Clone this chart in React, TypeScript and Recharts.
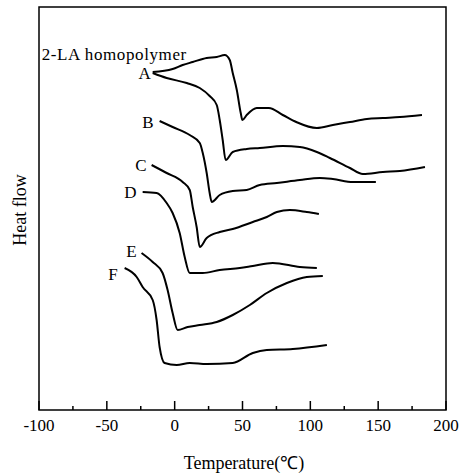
import React from 'react';
import { LineChart, Line, XAxis, YAxis, ReferenceArea } from 'recharts';

// temperatures (°C) and heat flow (arbitrary units) per curve
const homoT = [-16.2, -1.5, 5.9, 13.3, 23.6, 31, 36.9, 40.6, 42.8, 45.8, 48.7, 49.9, 53.1, 60.5, 69.4, 79.7, 89.6, 104.8, 116.6, 129.2, 141.7, 153.5, 166, 182.3];
const homoH = [338, 341, 345, 348, 352, 353, 355, 350, 337, 320, 297, 290, 295, 302, 302, 295, 288, 282, 285, 288, 291, 292, 293, 295];

const aT = [-16.2, -5.9, 8.9, 18.5, 25.8, 31, 33.2, 35.4, 37.6, 42.8, 53.1, 62.7, 79.7, 92.3, 104.8, 114.4, 129.2, 138.7, 153.5, 166, 184.5];
const aH = [337, 332, 327, 322, 314, 305, 290, 270, 250, 258, 261, 262, 264, 263, 258, 252, 242, 236, 238, 239, 243];

const bT = [-11.1, -1.5, 11.1, 18.5, 20.7, 23.6, 25.8, 27.3, 33.2, 42.8, 53.1, 62.7, 75.3, 92.3, 107, 116.6, 131.4, 148.3];
const bH = [289, 283, 275, 267, 257, 237, 217, 208, 215, 219, 220, 225, 227, 230, 232, 231, 228, 228];

const cT = [-17, -5.9, 5.9, 11.1, 13.3, 16.2, 18.5, 23.6, 33.2, 42.8, 57.6, 67.9, 75.3, 84.9, 97.4, 106.3];
const cH = [245, 237, 228, 220, 203, 183, 163, 172, 178, 181, 188, 193, 198, 200, 198, 196];

const dT = [-23.6, -13.3, -5.9, -1.5, 3.7, 7.4, 11.1, 20.7, 33.2, 48, 57.6, 72.3, 92.3, 104.8];
const dH = [218, 217, 207, 197, 177, 153, 137, 137, 140, 142, 144, 147, 143, 142];

const eT = [-24.4, -16.2, -8.9, -5.2, -1.5, 2.2, 9.6, 18.5, 31, 42.8, 55.4, 67.9, 82.7, 97.4, 109.2];
const eH = [157, 148, 137, 120, 97, 80, 83, 85, 88, 95, 105, 117, 127, 133, 134];

const fT = [-36.9, -28, -23.6, -16.2, -13.3, -11.1, -7.4, 1.5, 11.1, 23.6, 42.8, 57.6, 67.9, 87.1, 112.2];
const fH = [142, 133, 123, 110, 90, 63, 47, 45, 47, 46, 47, 57, 60, 61, 65];

const xTicks = [-100, -75, -50, -25, 0, 25, 50, 75, 100, 125, 150, 175, 200];

const toRows = (t: number[], h: number[]) => t.map((v, i) => ({ t: v, h: h[i] }));

const series = [
  { key: 'homo', name: '2-LA homopolymer', data: toRows(homoT, homoH), dx: -111, dy: -18, anchor: 'start' },
  { key: 'A', name: 'A', data: toRows(aT, aH), dx: -2, dy: 0, anchor: 'end' },
  { key: 'B', name: 'B', data: toRows(bT, bH), dx: -6, dy: 1, anchor: 'end' },
  { key: 'C', name: 'C', data: toRows(cT, cH), dx: -5, dy: 0, anchor: 'end' },
  { key: 'D', name: 'D', data: toRows(dT, dH), dx: -6, dy: 0, anchor: 'end' },
  { key: 'E', name: 'E', data: toRows(eT, eH), dx: -5, dy: -2, anchor: 'end' },
  { key: 'F', name: 'F', data: toRows(fT, fH), dx: -7, dy: 6, anchor: 'end' },
];

const serif = '"Liberation Serif", "Times New Roman", serif';

const TempTick = (props: any) => {
  const { x, y, payload } = props;
  const major = payload.value % 50 === 0;
  return (
    <g>
      <line x1={x} x2={x} y1={y} y2={y - (major ? 9 : 4)} stroke="#000" strokeWidth={1.5} />
      {major && (
        <text x={x} y={y + 21} textAnchor="middle" fontFamily={serif} fontSize={17} fill="#000">
          {payload.value}
        </text>
      )}
    </g>
  );
};

const curveLabel = (name: string, dx: number, dy: number, anchor: string) => (props: any) => {
  if (props.index !== 0) return null;
  return (
    <text
      x={props.x + dx}
      y={props.y + dy}
      dy="0.35em"
      textAnchor={anchor}
      fontFamily={serif}
      fontSize={17}
      letterSpacing={name.length > 1 ? 0.6 : 0}
      fill="#000"
    >
      {name}
    </text>
  );
};

export default function App() {
  return (
    <div style={{ position: 'absolute', left: 0, top: 0, width: 464, height: 474, background: '#fff' }}>
      <LineChart width={464} height={474} margin={{ top: 7, right: 18, left: 39, bottom: 14 }}>
        <XAxis
          dataKey="t"
          type="number"
          domain={[-100, 200]}
          ticks={xTicks}
          interval={0}
          axisLine={false}
          tickLine={false}
          tickSize={0}
          tickMargin={0}
          height={50}
          tick={<TempTick />}
        />
        <YAxis type="number" domain={[0, 403]} hide />
        <ReferenceArea x1={-100} x2={200} y1={0} y2={403} fill="none" stroke="#000" strokeWidth={1.5} />
        {series.map((s) => (
          <Line
            key={s.key}
            data={s.data}
            dataKey="h"
            type="monotone"
            stroke="#000"
            strokeWidth={2}
            dot={false}
            activeDot={false}
            isAnimationActive={false}
            label={curveLabel(s.name, s.dx, s.dy, s.anchor)}
          />
        ))}
      </LineChart>
      <div
        style={{
          position: 'absolute',
          left: 0,
          width: 488,
          top: 450,
          textAlign: 'center',
          fontFamily: serif,
          fontSize: 18,
          color: '#000',
        }}
      >
        Temperature(℃)
      </div>
      <div
        style={{
          position: 'absolute',
          left: 20,
          top: 210,
          transform: 'translate(-50%, -50%) rotate(-90deg)',
          whiteSpace: 'nowrap',
          fontFamily: serif,
          fontSize: 18,
          color: '#000',
        }}
      >
        Heat flow
      </div>
    </div>
  );
}
